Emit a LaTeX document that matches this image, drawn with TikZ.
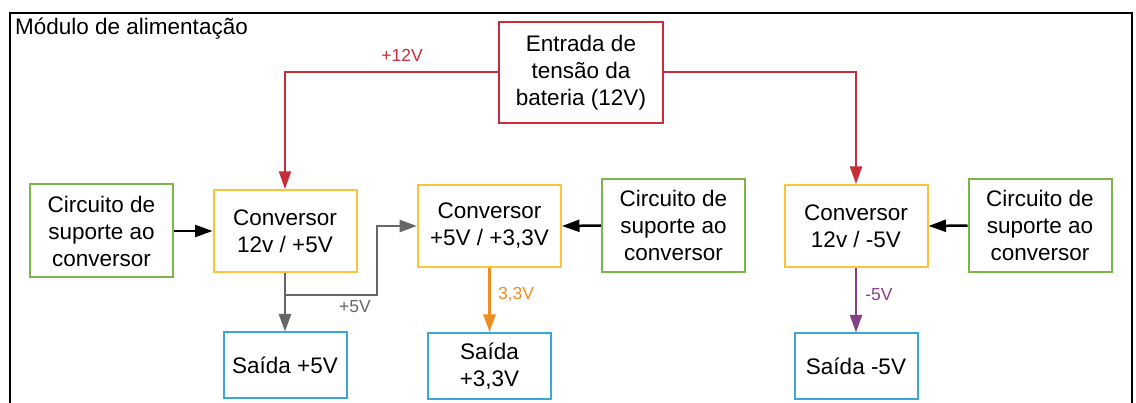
\documentclass[tikz,border=0pt]{standalone}
\usepackage{fontspec}
\setmainfont{Liberation Sans}
\usetikzlibrary{arrows.meta}
\definecolor{lucred}{HTML}{C92D39}
\definecolor{lucyellow}{HTML}{FCC438}
\definecolor{lucgreen}{HTML}{7AB648}
\definecolor{lucblue}{HTML}{3AA6DD}
\definecolor{lucorange}{HTML}{EF8D22}
\definecolor{lucpurple}{HTML}{834187}
\definecolor{lucgray}{HTML}{666666}
\begin{document}
\begin{tikzpicture}[x=1pt,y=-1pt]
		\tikzstyle{every node}=[font=\fontsize{22.5}{27}\selectfont, align=center, inner sep=0pt]
		\tikzstyle{box}=[draw, line width=2pt, minimum width=143pt, minimum height=82pt]
		\tikzstyle{conv}=[box, lucyellow]
		\tikzstyle{circ}=[box, lucgreen, minimum height=93pt]
		\tikzstyle{saida}=[box, lucblue, minimum width=123pt, minimum height=66pt]
		\tikzstyle{volt}=[font=\fontsize{17.5}{21}\selectfont]
		\tikzstyle{wire}=[line width=2.5pt, -{Triangle[length=17.5pt,width=12pt]}]
		\useasboundingbox (0,0) rectangle (1136,403);
		\draw[line width=2pt] (9.5,13) rectangle (1132,430);
		\node[anchor=base west] (Title) at (15,35) {Módulo de alimentação};
		\node[box, lucred, minimum width=164pt, minimum height=101pt, text=black] (Bat) at (581,72.5) {Entrada de\\tensão da\\bateria (12V)};
		\node[conv, text=black] (ConvA) at (285,231) {Conversor\\12v / +5V};
		\node[conv, text=black] (ConvB) at (489.5,226) {Conversor\\+5V / +3,3V};
		\node[conv, text=black] (ConvC) at (856,226) {Conversor\\12v / -5V};
		\node[circ, text=black] (CircA) at (101.5,231) {Circuito de\\suporte ao\\conversor};
		\node[circ, text=black] (CircB) at (673.5,225.5) {Circuito de\\suporte ao\\conversor};
		\node[circ, text=black] (CircC) at (1040,225.5) {Circuito de\\suporte ao\\conversor};
		\node[saida, text=black] (OutA) at (285,365.5) {Saída +5V};
		\node[saida, text=black] (OutB) at (489.5,366) {Saída\\+3,3V};
		\node[saida, text=black] (OutC) at (856,366.5) {Saída -5V};
		\coordinate (Fork) at (377,295);
		\draw[wire, lucred, line width=2pt] (Bat.west) -| (ConvA.north);
		\draw[wire, lucred, line width=2pt] (Bat.east) -| (ConvC.north);
		\draw[wire, black] (CircA.east) -- (ConvA.west);
		\draw[wire, black] (CircB.west) -- (ConvB.east);
		\draw[wire, black] (CircC.west) -- (ConvC.east);
		\draw[wire, lucgray] (ConvA.south) -- (OutA.north);
		\draw[wire, lucgray] (ConvA.south |- Fork) -- (Fork) |- (ConvB.west);
		\draw[wire, lucorange] (ConvB.south) -- (OutB.north);
		\draw[wire, lucpurple, line width=2pt] (ConvC.south) -- (OutC.north);
		\node[volt, text=lucred] (LblA) at (402,55) {+12V};
		\node[volt, text=lucgray] (LblB) at (355,307) {+5V};
		\node[volt, text=lucorange] (LblC) at (516,295) {3,3V};
		\node[volt, text=lucpurple] (LblD) at (879,295) {-5V};
\end{tikzpicture}
\end{document}
